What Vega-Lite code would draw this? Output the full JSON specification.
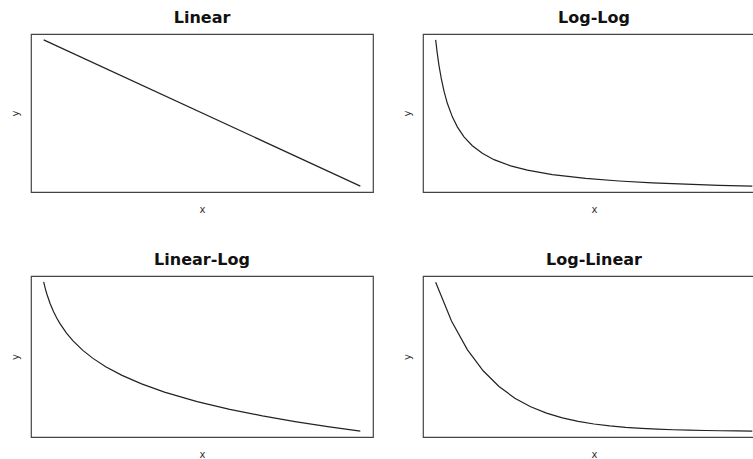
{
  "$schema": "https://vega.github.io/schema/vega-lite/v6.json",
  "padding": {"left": 9, "top": 9, "right": 0, "bottom": 0},
  "background": "white",
  "datasets": {
    "linear": [{"x": 0, "y": 1}, {"x": 1, "y": 0}],
    "loglog": [
      {"x": 1, "y": 1}, {"x": 1.1, "y": 0.909}, {"x": 1.2, "y": 0.833}, {"x": 1.35, "y": 0.741},
      {"x": 1.5, "y": 0.667}, {"x": 1.7, "y": 0.588}, {"x": 2, "y": 0.5}, {"x": 2.3, "y": 0.435},
      {"x": 2.7, "y": 0.37}, {"x": 3.2, "y": 0.3125}, {"x": 3.8, "y": 0.263}, {"x": 4.5, "y": 0.222},
      {"x": 5.5, "y": 0.182}, {"x": 6.5, "y": 0.154}, {"x": 8, "y": 0.125}, {"x": 10, "y": 0.1},
      {"x": 12, "y": 0.0833}, {"x": 14, "y": 0.0714}, {"x": 16, "y": 0.0625}, {"x": 18, "y": 0.0556},
      {"x": 20, "y": 0.05}
    ],
    "linlog": [
      {"x": 0.03, "y": 3.507}, {"x": 0.035, "y": 3.352}, {"x": 0.04, "y": 3.219}, {"x": 0.05, "y": 2.996},
      {"x": 0.06, "y": 2.813}, {"x": 0.07, "y": 2.659}, {"x": 0.08, "y": 2.526}, {"x": 0.1, "y": 2.303},
      {"x": 0.12, "y": 2.12}, {"x": 0.15, "y": 1.897}, {"x": 0.18, "y": 1.715}, {"x": 0.22, "y": 1.514},
      {"x": 0.27, "y": 1.309}, {"x": 0.33, "y": 1.109}, {"x": 0.4, "y": 0.916}, {"x": 0.5, "y": 0.693},
      {"x": 0.6, "y": 0.511}, {"x": 0.7, "y": 0.357}, {"x": 0.8, "y": 0.223}, {"x": 0.9, "y": 0.105},
      {"x": 1.0, "y": 0}
    ],
    "loglin": [
      {"x": 0, "y": 1}, {"x": 0.5, "y": 0.7408}, {"x": 1, "y": 0.5488}, {"x": 1.5, "y": 0.4066},
      {"x": 2, "y": 0.3012}, {"x": 2.5, "y": 0.2231}, {"x": 3, "y": 0.1653}, {"x": 3.5, "y": 0.1225},
      {"x": 4, "y": 0.0907}, {"x": 4.5, "y": 0.0672}, {"x": 5, "y": 0.0498}, {"x": 5.5, "y": 0.0369},
      {"x": 6, "y": 0.0273}, {"x": 6.5, "y": 0.0202}, {"x": 7, "y": 0.015}, {"x": 7.5, "y": 0.0111},
      {"x": 8, "y": 0.0082}, {"x": 8.5, "y": 0.0061}, {"x": 9, "y": 0.0045}, {"x": 9.5, "y": 0.0033},
      {"x": 10, "y": 0.0025}
    ]
  },
  "config": {
    "view": {"stroke": "#444", "strokeWidth": 1.2},
    "axis": {"labels": false, "ticks": false, "domain": false, "grid": false, "titleFont": "DejaVu Sans", "titleFontSize": 10, "titleFontWeight": "normal", "titleColor": "#333"},
    "axisX": {"titlePadding": 12},
    "axisY": {"titlePadding": 11},
    "title": {"font": "DejaVu Sans", "fontSize": 16, "fontWeight": "bold", "color": "#111", "offset": 8},
    "line": {"color": "#222", "strokeWidth": 1.2}
  },
  "columns": 2,
  "spacing": {"row": 84, "column": 50},
  "bounds": "flush",
  "concat": [
    {
      "title": "Linear",
      "width": 342, "height": 158,
      "data": {"name": "linear"},
      "mark": "line",
      "encoding": {
        "x": {"field": "x", "type": "quantitative", "title": "x", "scale": {"domain": [-0.04, 1.04], "nice": false, "zero": false}},
        "y": {"field": "y", "type": "quantitative", "title": "y", "scale": {"domain": [-0.04, 1.04], "nice": false, "zero": false}}
      }
    },
    {
      "title": "Log-Log",
      "width": 342, "height": 158,
      "data": {"name": "loglog"},
      "mark": "line",
      "encoding": {
        "x": {"field": "x", "type": "quantitative", "title": "x", "scale": {"domain": [0.24, 20.76], "nice": false, "zero": false}},
        "y": {"field": "y", "type": "quantitative", "title": "y", "scale": {"domain": [0.012, 1.038], "nice": false, "zero": false}}
      }
    },
    {
      "title": "Linear-Log",
      "width": 342, "height": 161,
      "data": {"name": "linlog"},
      "mark": "line",
      "encoding": {
        "x": {"field": "x", "type": "quantitative", "title": "x", "scale": {"domain": [-0.0088, 1.0388], "nice": false, "zero": false}},
        "y": {"field": "y", "type": "quantitative", "title": "y", "scale": {"domain": [-0.14, 3.647], "nice": false, "zero": false}}
      }
    },
    {
      "title": "Log-Linear",
      "width": 342, "height": 161,
      "data": {"name": "loglin"},
      "mark": "line",
      "encoding": {
        "x": {"field": "x", "type": "quantitative", "title": "x", "scale": {"domain": [-0.4, 10.4], "nice": false, "zero": false}},
        "y": {"field": "y", "type": "quantitative", "title": "y", "scale": {"domain": [-0.0374, 1.0424], "nice": false, "zero": false}}
      }
    }
  ]
}
